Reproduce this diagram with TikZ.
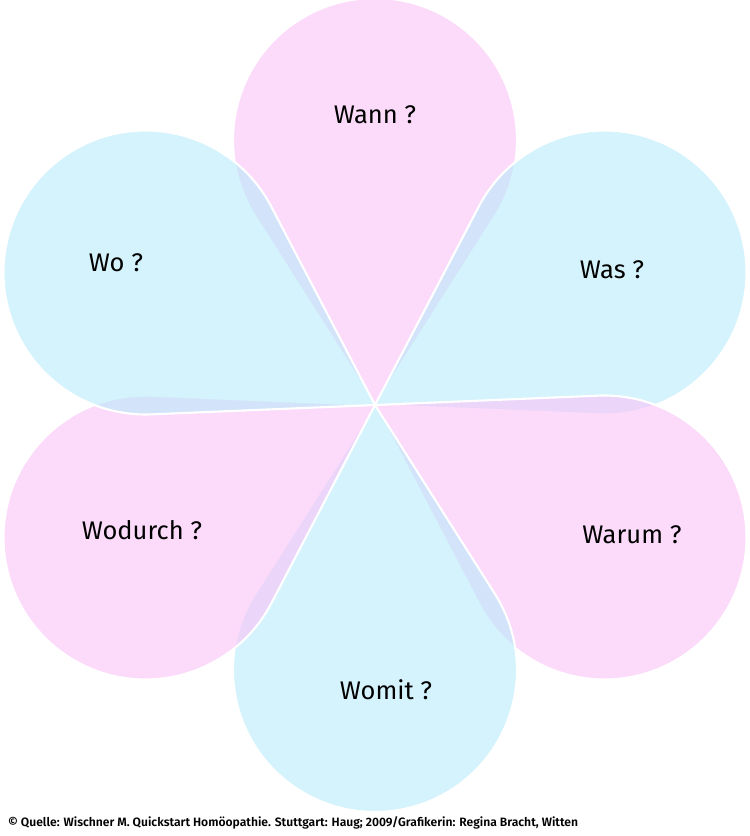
\documentclass[tikz,border=0pt]{standalone}
\usepackage{fontspec}
\setmainfont{Fira Sans}[BoldFont=Fira Sans SemiBold]
\usetikzlibrary{calc}
\definecolor{petalpink}{RGB}{250,195,248}
\definecolor{petalblue}{RGB}{185,235,250}
\tikzset{
    petal/.style={fill opacity=0.6, draw=white, line width=1.2pt},
    question/.style={font=\fontsize{14.5}{16}\selectfont}
}
\newcommand{\drawpetal}[2]{%
    \path[petal, fill=#2, rotate=#1] (0,0) -- ($(265,0)+(237.6:142)$)
        arc[start angle=237.6, end angle=482.4, radius=142] -- cycle;}
\begin{document}
\begin{tikzpicture}[x=0.02cm, y=0.02cm]
    \useasboundingbox (-375,-431) rectangle (375,405);
    \fill[white] (-375,-431) rectangle (375,405);

    \drawpetal{90}{petalpink}
    \drawpetal{30}{petalblue}
    \drawpetal{-30}{petalpink}
    \drawpetal{-90}{petalblue}
    \drawpetal{210}{petalpink}
    \drawpetal{150}{petalblue}

    \node[question] (wann) at (0, 290) {Wann ?};
    \node[question] (was) at (237, 135) {Was ?};
    \node[question] (warum) at (257, -130) {Warum ?};
    \node[question] (womit) at (11, -285) {Womit ?};
    \node[question] (wodurch) at (-233, -125) {Wodurch ?};
    \node[question] (wo) at (-259, 142) {Wo ?};

    \node[font=\bfseries\fontsize{6.9}{8}\selectfont, anchor=west] (quelle) at (-373, -418)
        {© Quelle: Wischner M. Quickstart Homöopathie. Stuttgart: Haug; 2009/Grafikerin: Regina Bracht, Witten};
\end{tikzpicture}
\end{document}
